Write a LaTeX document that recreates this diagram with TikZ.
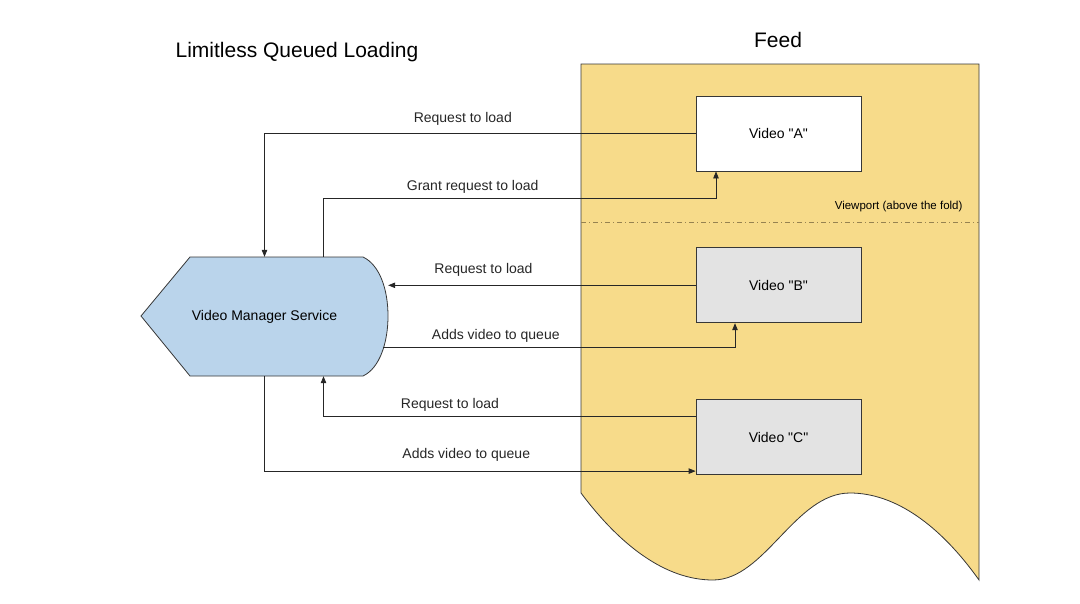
\documentclass[tikz,border=0pt]{standalone}
\usepackage{fontspec}
\setmainfont{Liberation Sans}[Ligatures=TeXOff]
\usetikzlibrary{arrows.meta,positioning}
\definecolor{feedyellow}{RGB}{247,219,138}
\definecolor{svcblue}{RGB}{186,212,235}
\definecolor{boxgray}{RGB}{227,227,227}
\definecolor{edgegray}{RGB}{55,55,55}
\definecolor{foldline}{RGB}{150,130,80}

\begin{document}
\begin{tikzpicture}[x=1pt,y=-1pt,>={Triangle[length=7pt,width=5.5pt]},font=\fontsize{14}{16}\selectfont]
  \tikzstyle{video}=[draw=edgegray,line width=0.8pt,minimum width=165pt,minimum height=75pt,align=center]
  \tikzstyle{flow}=[->,line width=0.8pt,draw=black!85]
  \tikzstyle{lbl}=[text=black!85]
  \useasboundingbox (0,0) rectangle (1080,603);
  % feed with wavy bottom
  \draw[fill=feedyellow,draw=edgegray,line width=0.8pt] (581,64) -- (979,64) -- (979,580)
    .. controls (940,525) and (895,493) .. (850,493)
    .. controls (795,493) and (765,580) .. (713,580)
    .. controls (665,580) and (620,545) .. (581,493) -- cycle;
  \draw[foldline,line width=0.7pt,dash pattern=on 5pt off 3pt on 1pt off 3pt] (581,222) -- (979,222);
  \node[anchor=east,font=\fontsize{11.5}{13}\selectfont] (fold) at (966,207) {Viewport (above the fold)};
  % service shape
  \draw[fill=svcblue,draw=edgegray,line width=0.8pt] (141,316) -- (190,257) -- (363,257)
    .. controls (380,265) and (388,290) .. (388,316)
    .. controls (388,342) and (380,368) .. (363,376) -- (190,376) -- cycle;
  \node[minimum width=247pt,minimum height=119pt] (vms) at (264.5,316.5) {Video Manager Service};
  \node[font=\fontsize{21}{24}\selectfont] (title) at (297,52) {Limitless Queued Loading};
  \node[font=\fontsize{21}{24}\selectfont] (feed) at (778,40) {Feed};
  \node[video,fill=white] (vidA) at (778.5,133.5) {Video "A"};
  \node[video,fill=boxgray,below=76pt of vidA] (vidB) {Video "B"};
  \node[video,fill=boxgray,below=76pt of vidB] (vidC) {Video "C"};
  \draw[flow] (vidA.west) -| node[lbl,pos=0.27,above=4.8pt] {Request to load} (vms.north);
  \draw[flow] ([xshift=59pt]vms.north) |- node[lbl,pos=0.69,above=0.8pt] {Grant request to load} ([shift={(-62.5pt,-27pt)}]vidA.south) -- ([xshift=-62.5pt]vidA.south);
  \draw[flow] (vidB.west) -- node[lbl,pos=0.69,above=4.8pt] {Request to load} (vms.east |- vidB.west);
  \draw[flow] ([shift={(-5pt,-31pt)}]vms.east) -| node[lbl,pos=0.16,above=1.8pt] {Adds video to queue} ([xshift=-43.5pt]vidB.south);
  \draw[flow] ([yshift=20.5pt]vidC.west) -| node[lbl,pos=0.33,above=1.8pt] {Request to load} ([xshift=59pt]vms.south);
  \draw[flow] (vms.south) |- node[lbl,pos=0.734,above=5.8pt] {Adds video to queue} ([yshift=-34pt]vidC.west);
\end{tikzpicture}
\end{document}
